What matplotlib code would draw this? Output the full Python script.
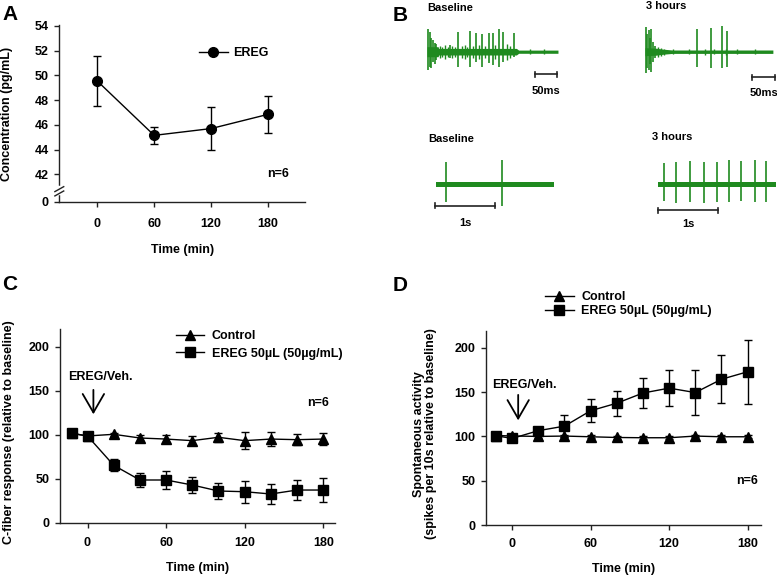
import matplotlib
matplotlib.use('Agg')
import matplotlib.pyplot as plt
from matplotlib.lines import Line2D
from matplotlib.transforms import blended_transform_factory

plt.rcParams['font.family'] = ['Liberation Sans', 'DejaVu Sans']
plt.rcParams['font.weight'] = 'bold'
plt.rcParams['axes.labelweight'] = 'bold'
plt.rcParams['font.size'] = 9

# ---------------- Panel A data ----------------
a_time = [0, 60, 120, 180]
a_conc = [49.55, 45.15, 45.7, 46.85]
a_err = [2.0, 0.68, 1.75, 1.5]
a_yticks = [42, 44, 46, 48, 50, 52, 54]
a_xticks = [0, 60, 120, 180]
a_zero_label = '0'

# ---------------- Panel C data ----------------
c_time = [-12, 0, 20, 40, 60, 80, 100, 120, 140, 160, 180]
c_ctrl = [101.5, 98.5, 100.4, 96.2, 95, 93.2, 97, 93.2, 95, 94.3, 95]
c_ctrl_err = [2.5, 2, 2, 3.6, 5, 4.9, 4.9, 9.5, 8.3, 6.6, 6.6]
c_ereg = [101.5, 98.5, 65.2, 48.5, 48.5, 42.8, 36, 35.2, 32.6, 37.1, 37.1]
c_ereg_err = [3, 2.5, 6.6, 8.3, 10, 9.5, 9.5, 12.7, 11, 11, 13.3]

# ---------------- Panel D data ----------------
d_time = [-12, 0, 20, 40, 60, 80, 100, 120, 140, 160, 180]
d_ctrl = [101, 100.5, 100, 100.4, 99.6, 98.8, 98.5, 98.5, 100.4, 99.6, 99.6]
d_ctrl_err = [2, 2, 1.5, 1.5, 1.5, 1.5, 1.5, 1.5, 1.5, 1.5, 1.5]
d_ereg = [100.7, 97.7, 106.5, 111.6, 129, 137.5, 149, 154.5, 149.5, 164.5, 173]
d_ereg_err = [2, 2.5, 4, 12.4, 13, 14, 16.5, 20.7, 25.7, 27, 36]
cd_xticks = [0, 60, 120, 180]
cd_yticks = [0, 50, 100, 150, 200]

labels_ctrl = 'Control'
labels_ereg = 'EREG 50\u00b5L (50\u00b5g/mL)'

# ---------------- Panel B traces (time, up amplitude, down amplitude) ----------------
# top-left: baseline, ms
tl_spike_t = [3, 6, 9, 13, 17, 21, 50.8, 69.7, 96, 109, 124, 138, 147, 162, 170, 195]
tl_spike_up = [23, 20, 14, 12, 9, 8, 6.7, 19.4, 21, 19, 17.7, 19, 18.4, 22.7, 20, 19]
tl_spike_dn = [-18, -15, -16, -10, -12, -8, -6.6, -15, -15, -10, -15, -11.6, -13.3, -15, -10, -5.6]
tl_small_t = [28, 34, 40, 46, 57, 62, 78, 85, 90, 102, 116, 130, 153, 178, 185, 230, 262]
tl_small_a = [6, 5, 7, 5, 6, 5, 6, 7, 5, 6, 7, 6, 7, 8, 6, 2.5, 2.5]
tl_env_t = [0, 25, 26, 200, 205, 293]
tl_env_w = [5, 5, 3.3, 3.3, 1.6, 1.6]
# top-right: 3 hours, ms
tr_spike_t = [2, 5, 8, 11, 14, 18, 22, 113, 144, 168, 178]
tr_spike_up = [25, 18, 22, 14, 23, 10, 6, 22.4, 23.4, 25.7, 20.7]
tr_spike_dn = [-21.6, -16, -18, -12, -20, -10, -6, -15, -16.6, -16, -15]
tr_small_t = [28, 34, 42, 60, 95, 130, 150, 175, 200, 240]
tr_small_a = [5, 4, 3, 2.5, 2.5, 3, 2.5, 3, 2.5, 2.5]
tr_env_t = [0, 24, 40, 60, 278]
tr_env_w = [4, 3.5, 2.5, 1.7, 1.7]
# bottom-left: baseline, s
bl_spike_t = [0.16, 1.095]
bl_spike_up = [22, 24.3]
bl_spike_dn = [-17.3, -21.7]
bl_env_t = [0, 1.97]
bl_env_w = [2.6, 2.6]
# bottom-right: 3 hours, s
br_spike_t = [0.095, 0.295, 0.517, 0.75, 0.973, 1.167, 1.373, 1.595, 1.778]
br_spike_up = [21.6, 22.6, 24.3, 22.6, 22.6, 25, 24.3, 25.3, 24.3]
br_spike_dn = [-16.4, -18.4, -17.4, -18.4, -17.4, -17.4, -16.4, -17.4, -17.4]
br_env_t = [0, 1.95]
br_env_w = [2.6, 2.6]

GREEN = '#1f8a1f'

W, H = 777, 576
fig = plt.figure(figsize=(W / 100, H / 100), dpi=100)


def rect(l, t, r, b):
    return [l / W, 1 - b / H, (r - l) / W, (b - t) / H]


def style(ax):
    for s in ['top', 'right']:
        ax.spines[s].set_visible(False)
    for s in ['left', 'bottom']:
        ax.spines[s].set_linewidth(1.0)
        ax.spines[s].set_color('#222222')
    ax.tick_params(direction='out', length=3.5, width=1.0, color='#222222')


eb_kw = dict(color='black', lw=1.0, elinewidth=1.0, capsize=3, capthick=1.0)
arrow_kw = dict(arrowstyle='->,head_length=0.95,head_width=0.55', lw=1.3,
                color='black', mutation_scale=14)


def handles():
    return [Line2D([], [], color='black', lw=1.0, marker='^', ms=7),
            Line2D([], [], color='black', lw=1.0, marker='s', ms=6.5)]


# ---------------- Panel A ----------------
axA = fig.add_axes(rect(59.3, 25, 305, 202))
style(axA)
axA.errorbar(a_time, a_conc, yerr=a_err, fmt='-o', ms=7, **eb_kw)
axA.set_xlim(-40, 219)
y0 = 42 - (202 - 174.3) / 12.36
axA.set_ylim(y0, 54.08)
axA.set_yticks([y0] + a_yticks)
axA.set_yticklabels([a_zero_label] + [str(v) for v in a_yticks])
axA.set_xticks(a_xticks)
axA.tick_params(axis='x', pad=8)
axA.tick_params(axis='y', pad=4)
axA.set_xlabel('Time (min)', labelpad=10)
axA.set_ylabel('Concentration (pg/mL)')
axA.yaxis.set_label_coords(-0.188, 0.5)
axA.legend([Line2D([], [], color='black', lw=1.0, marker='o', ms=7)], ['EREG'],
           loc='center left', bbox_to_anchor=(0.569, 0.84), frameon=False,
           handlelength=2.3, handletextpad=0.4, borderaxespad=0, borderpad=0)
axA.text(190.8, 42.0, 'n=6', ha='center', va='center')
# axis break
bt = blended_transform_factory(axA.transAxes, axA.transData)
axA.plot([0, 0], [40.5, 40.95], transform=bt, color='white', lw=2.5, clip_on=False, zorder=5)
for yb in (40.45, 40.8):
    axA.plot([-0.018, 0.018], [yb - 0.2, yb + 0.2], transform=bt, color='#222222',
             lw=1.0, clip_on=False, zorder=6)

# ---------------- Panel C ----------------
axC = fig.add_axes(rect(60, 329, 335, 522.7))
style(axC)
axC.errorbar(c_time, c_ctrl, yerr=c_ctrl_err, fmt='-^', ms=7, **eb_kw)
axC.errorbar(c_time, c_ereg, yerr=c_ereg_err, fmt='-s', ms=6.5, **eb_kw)
axC.set_xlim(-21, 189)
axC.set_ylim(0, 220)
axC.set_xticks(cd_xticks)
axC.set_yticks(cd_yticks)
axC.tick_params(axis='x', pad=7)
axC.tick_params(axis='y', pad=4)
axC.set_xlabel('Time (min)', labelpad=9)
axC.set_ylabel('C-fiber response (relative to baseline)')
axC.yaxis.set_label_coords(-0.164, 0.47)
axC.legend(handles(), [labels_ctrl, labels_ereg], loc='upper left',
           bbox_to_anchor=(0.42, 0.995), frameon=False,
           handlelength=2.3, handletextpad=0.6, borderaxespad=0, borderpad=0,
           labelspacing=0.45)
axC.text(-14.7, 165.6, 'EREG/Veh.', ha='left', va='center')
axC.annotate('', xy=(4.5, 120), xytext=(4.5, 154), arrowprops=arrow_kw)
axC.text(176, 136, 'n=6', ha='center', va='center')

# ---------------- Panel D ----------------
axD = fig.add_axes(rect(486, 331, 760.7, 525))
style(axD)
axD.errorbar(d_time, d_ctrl, yerr=d_ctrl_err, fmt='-^', ms=7, **eb_kw)
axD.errorbar(d_time, d_ereg, yerr=d_ereg_err, fmt='-s', ms=6.5, **eb_kw)
axD.set_xlim(-20, 190)
axD.set_ylim(0, 219)
axD.set_xticks(cd_xticks)
axD.set_yticks(cd_yticks)
axD.tick_params(axis='x', pad=6)
axD.tick_params(axis='y', pad=4)
axD.set_xlabel('Time (min)', labelpad=9)
axD.set_ylabel('Spontaneous activity\n(spikes per 10s relative to baseline)', linespacing=1.0)
axD.yaxis.set_label_coords(-0.178, 0.47)
axD.legend(handles(), [labels_ctrl, labels_ereg], loc='upper left',
           bbox_to_anchor=(0.215, 1.204), frameon=False,
           handlelength=2.3, handletextpad=0.6, borderaxespad=0, borderpad=0,
           labelspacing=0.15)
axD.text(-15, 157.8, 'EREG/Veh.', ha='left', va='center')
axD.annotate('', xy=(4.6, 115), xytext=(4.6, 150), arrowprops=arrow_kw)
axD.text(179.4, 49.6, 'n=6', ha='center', va='center')


# ---------------- Panel B ----------------
def trace(x0, y0, px_per_unit, dur, env_t, env_w, sp_t, sp_up, sp_dn,
          sm_t=None, sm_a=None, bar_len=None, bar_dy=0, bar_x=0, bar_label='',
          lab_dy=0, title='', title_dx=0, title_dy=0):
    # axes: 1 amplitude unit = 1 px; x units = ms or s
    left, right = x0, x0 + dur * px_per_unit
    ax = fig.add_axes(rect(left, y0 - 30, right, y0 + 30))
    ax.set_xlim(0, dur)
    ax.set_ylim(-30, 30)
    ax.axis('off')
    ax.fill_between(env_t, [-w for w in env_w], env_w, color=GREEN, lw=0)
    ax.vlines(sp_t, sp_dn, sp_up, color=GREEN, lw=1.2)
    if sm_t is not None:
        ax.vlines(sm_t, [-a for a in sm_a], sm_a, color=GREEN, lw=1.0)
    # scale bar
    by = -bar_dy
    ax.plot([bar_x, bar_x + bar_len], [by, by], color='#222222', lw=1.2, clip_on=False)
    for xx in (bar_x, bar_x + bar_len):
        ax.plot([xx, xx], [by - 2.5, by + 2.5], color='#222222', lw=1.2, clip_on=False)
    ax.text(bar_x + bar_len / 2, -lab_dy, bar_label, ha='center', va='center',
            fontsize=8, clip_on=False)
    ax.text(title_dx, title_dy, title, ha='left', va='center', fontsize=8, clip_on=False)
    return ax


# top-left
trace(427, 51.7, 0.447, 293, tl_env_t, tl_env_w, tl_spike_t, tl_spike_up, tl_spike_dn,
      tl_small_t, tl_small_a, bar_len=50, bar_dy=74 - 51.7, bar_x=(535 - 427) / 0.447,
      bar_label='50ms', lab_dy=90.7 - 51.7, title='Baseline', title_dx=0,
      title_dy=51.7 - 8)
# top-right
trace(645, 51.7, 0.46, 278, tr_env_t, tr_env_w, tr_spike_t, tr_spike_up, tr_spike_dn,
      tr_small_t, tr_small_a, bar_len=50, bar_dy=77 - 51.7, bar_x=(752 - 645) / 0.46,
      bar_label='50ms', lab_dy=92.7 - 51.7, title='3 hours', title_dx=1 / 0.46,
      title_dy=51.7 - 6)
# bottom-left
trace(436, 184.3, 60, 1.97, bl_env_t, bl_env_w, bl_spike_t, bl_spike_up, bl_spike_dn,
      bar_len=1.0, bar_dy=205.5 - 184.3, bar_x=-1 / 60, bar_label='1s',
      lab_dy=222.7 - 184.3, title='Baseline', title_dx=-8 / 60, title_dy=184.3 - 139)
# bottom-right
trace(658.3, 184.8, 60.5, 1.95, br_env_t, br_env_w, br_spike_t, br_spike_up, br_spike_dn,
      bar_len=1.0, bar_dy=210 - 184.8, bar_x=-0.5 / 60.5, bar_label='1s',
      lab_dy=224 - 184.8, title='3 hours', title_dx=-6 / 60.5, title_dy=184.8 - 137)

# ---------------- Panel letters ----------------
for letter, x, y in [('A', 2.5, 14), ('B', 393, 15.5), ('C', 2.5, 284.5), ('D', 393, 285.5)]:
    fig.text(x / W, 1 - y / H, letter, fontsize=15, fontweight='bold', ha='left', va='center')

fig.savefig('out.png', dpi=100)
